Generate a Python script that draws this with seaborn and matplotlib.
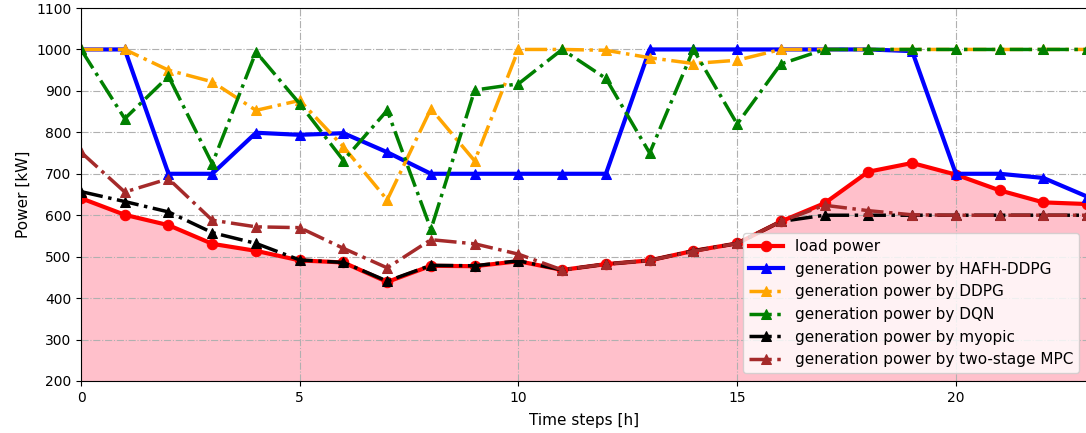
import numpy as np
import matplotlib
matplotlib.use("Agg")
import matplotlib.pyplot as plt
import seaborn as sns

# Data
hours = list(range(24))
load_power = [641, 601, 576, 531, 514, 491, 486, 439, 478, 477, 489, 468,
              482, 491, 514, 532, 585, 629, 705, 726, 698, 660, 631, 627]
hafh_ddpg = [1000, 1000, 700, 700, 799, 794, 798, 752, 700, 700, 700, 700,
             700, 1000, 1000, 1000, 1000, 1000, 1000, 996, 700, 700, 690, 645]
ddpg = [1000, 1000, 950, 922, 853, 877, 765, 637, 857, 731, 1000, 1000,
        998, 980, 966, 974, 1000, 1000, 1000, 1000, 1000, 1000, 1000, 1000]
dqn = [1000, 833, 935, 724, 994, 869, 732, 853, 566, 902, 917, 1000,
       930, 750, 1000, 820, 965, 1000, 1000, 1000, 1000, 1000, 1000, 1000]
myopic = [657, 633, 608, 558, 532, 492, 486, 441, 479, 478, 490, 468,
          482, 491, 514, 532, 585, 600, 600, 600, 600, 600, 600, 600]
two_stage_mpc = [752, 656, 688, 588, 572, 570, 520, 473, 541, 531, 506, 468,
                 482, 491, 513, 532, 585, 624, 611, 601, 600, 600, 600, 600]

series = [
    ("load power", load_power, "red", "-", "o", 7.5, 3),
    ("generation power by HAFH-DDPG", hafh_ddpg, "blue", "-", "^", 6.5, 3),
    ("generation power by DDPG", ddpg, "orange", "-.", "^", 6.5, 2.5),
    ("generation power by DQN", dqn, "green", "-.", "^", 6.5, 2.5),
    ("generation power by myopic", myopic, "black", "-.", "^", 6.5, 2.5),
    ("generation power by two-stage MPC", two_stage_mpc, "brown", "-.", "^", 6.5, 2.5),
]

fig = plt.figure(figsize=(10.86, 4.33), dpi=100)
ax = fig.add_axes([0.0746, 0.1201, 0.9264, 0.8614])

ax.fill_between(hours, load_power, 0, color="pink")

for label, vals, color, ls, marker, ms, lw in series:
    sns.lineplot(x=hours, y=vals, ax=ax, color=color, linestyle=ls,
                 marker=marker, markersize=ms, linewidth=lw,
                 markeredgecolor=color, label=label)

ax.set_xlim(0, 23)
ax.set_ylim(200, 1100)
ax.set_xticks([0, 5, 10, 15, 20])
ax.set_yticks(range(200, 1101, 100))
ax.tick_params(labelsize=10)
ax.grid(True, linestyle="-.", color="#b0b0b0", linewidth=0.8)
ax.set_xlabel("Time steps [h]", fontsize=11, labelpad=6)
ax.set_ylabel("Power [kW]", fontsize=11)
ax.legend(loc="lower right", fontsize=11, handlelength=2.2)

plt.savefig("out.png", dpi=100)
plt.close()
